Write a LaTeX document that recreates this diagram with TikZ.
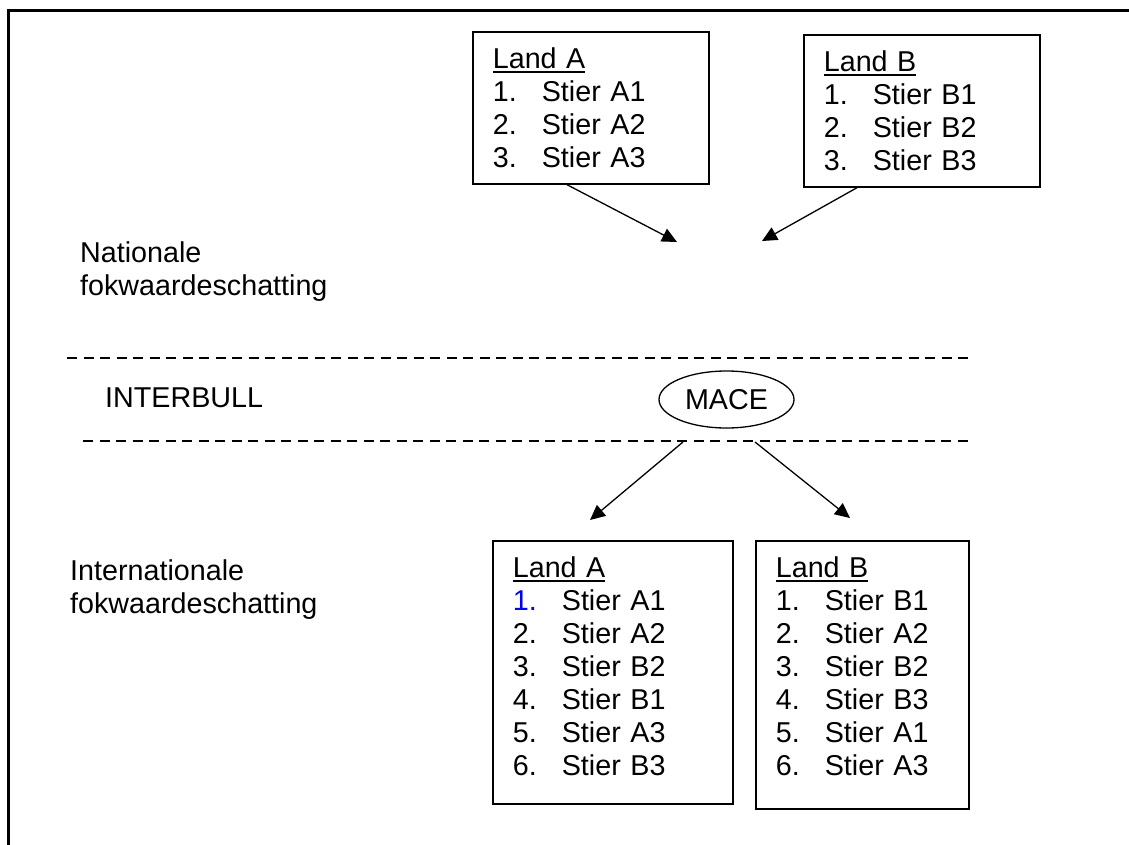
\documentclass[tikz,border=0pt]{standalone}
\usepackage{fontspec}
\setmainfont{Liberation Sans}
\usetikzlibrary{arrows.meta,shapes.geometric}

% kop van een lijst, met een dikke streep eronder
\newcommand{\kop}[1]{\setbox0\hbox{#1}\rlap{\rule[-4.5pt]{\wd0}{2.2pt}}\box0}
\newcommand{\rij}[2]{\makebox[49pt][l]{#1}#2}

\begin{document}
\begin{tikzpicture}[x=1pt,y=-1pt,>={Triangle[length=15pt,width=14pt]},
        font=\fontsize{28.7}{33}\selectfont,
        lijst/.style={draw,line width=1.7pt,anchor=north west,align=left,
          inner xsep=20pt,inner ysep=16pt,text height=21pt},
        opschrift/.style={anchor=base west,align=left,inner sep=0pt},
        pijl/.style={->,line width=1.3pt},
        scheiding/.style={line width=1.5pt,dash pattern=on 10pt off 6.5pt}]

  \useasboundingbox (0,0) rectangle (1129,845);
  \draw[line width=3pt] (8,850) -- (8,11) -- (1135,11);

  % nationale lijsten
  \node[lijst,text width=196pt,text depth=99pt] (natA) at (472,31)
    {\kop{Land A}\\ \rij{1.}{Stier A1}\\ \rij{2.}{Stier A2}\\ \rij{3.}{Stier A3}};
  \node[lijst,text width=196pt,text depth=99pt] (natB) at (803,34)
    {\kop{Land B}\\ \rij{1.}{Stier B1}\\ \rij{2.}{Stier B2}\\ \rij{3.}{Stier B3}};

  % base ligt op de onderste regel
  \node[opschrift] (nat) at (80,295) {Nationale\\fokwaardeschatting};
  \node[opschrift] (ib) at (105,407) {INTERBULL};
  \node[opschrift] (int) at (70,613) {Internationale\\fokwaardeschatting};

  \draw[scheiding] (67,358) -- (970,358);
  \draw[scheiding] (83,441) -- (970,441);

  \node[draw,ellipse,line width=1.3pt,minimum width=135pt,minimum height=57pt,
    inner sep=0pt] (mace) at (726.5,399.5) {MACE};

  % internationale lijsten
  \node[lijst,text width=200pt,text depth=210pt] (intA) at (492,540)
    {\kop{Land A}\\ \rij{\textcolor{blue}{1.}}{Stier A1}\\ \rij{2.}{Stier A2}\\
     \rij{3.}{Stier B2}\\ \rij{4.}{Stier B1}\\ \rij{5.}{Stier A3}\\ \rij{6.}{Stier B3}};
  \node[lijst,text width=173pt,text depth=215pt] (intB) at (755,540)
    {\kop{Land B}\\ \rij{1.}{Stier B1}\\ \rij{2.}{Stier A2}\\
     \rij{3.}{Stier B2}\\ \rij{4.}{Stier B3}\\ \rij{5.}{Stier A1}\\ \rij{6.}{Stier A3}};

  \coordinate (natdoelA) at (677,242);
  \coordinate (natdoelB) at (762,241);
  \coordinate (maceuitA) at (683,442);
  \coordinate (maceuitB) at (755,442);
  \coordinate (intdoelA) at (590,520);
  \coordinate (intdoelB) at (850,518);

  \draw[pijl] ([xshift=95pt]natA.south west) -- (natdoelA);
  \draw[pijl] ([xshift=54pt]natB.south west) -- (natdoelB);
  \draw[pijl] (maceuitA) -- (intdoelA);
  \draw[pijl] (maceuitB) -- (intdoelB);

\end{tikzpicture}
\end{document}
